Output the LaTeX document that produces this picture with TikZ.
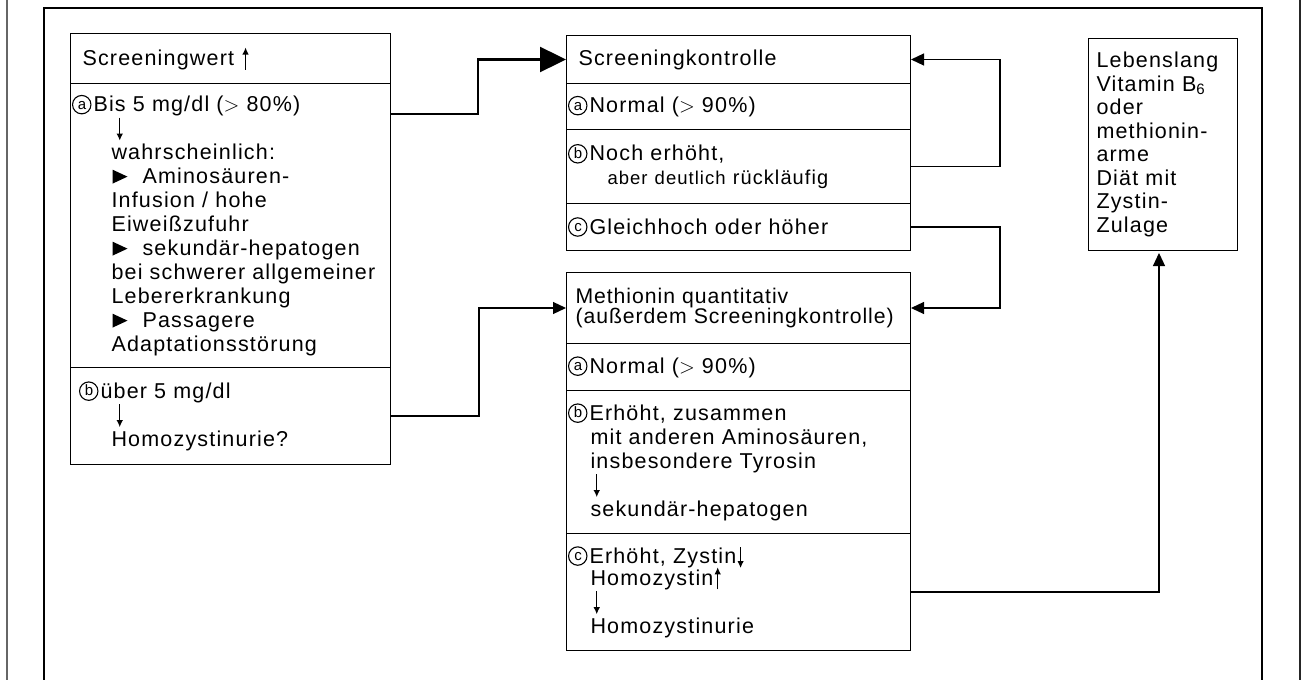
\documentclass[tikz,border=0pt]{standalone}
\usepackage{fontspec}
\setmainfont{Liberation Sans}[LetterSpace=5.5]
\usetikzlibrary{arrows.meta}

% circled item letter: the letter in a fixed box, the ring drawn over it
\newcommand\circled[1]{\makebox[19pt]{\raisebox{2.2pt}{\fontsize{15}{15}\selectfont #1}}%
  \llap{\tikz[baseline=-7pt,x=1pt,y=1pt]\draw[line width=1.1pt] (0,0) circle[radius=9.2pt];}\hspace{2pt}}
% arrow standing on its own line
\newcommand\ardown{\tikz[baseline=0pt,x=1pt,y=1pt]\draw[line width=1.2pt,-{Latex[length=7pt,width=6.5pt]}] (0,18) -- (0,-5);}
% small inline arrows
\newcommand\indown{\hspace{1pt}\tikz[baseline=0pt,x=1pt,y=1pt]\draw[line width=1.2pt,-{Latex[length=7pt,width=6.5pt]}] (0,16) -- (0,-5);}
\newcommand\inup{\hspace{1pt}\tikz[baseline=0pt,x=1pt,y=1pt]\draw[line width=1.2pt,-{Latex[length=7pt,width=6.5pt]}] (0,-4) -- (0,18);}
% list bullet
\newcommand\bul{\tikz[baseline=0pt,x=1pt,y=1pt]\fill (0,0) -- (0,14) -- (15,7) -- cycle;\hspace{15pt}}

\begin{document}
\begin{tikzpicture}[x=1pt,y=-1pt,
  cell/.style={draw,line width=1pt,rectangle,anchor=north west,inner ysep=0pt,
    align=left,font=\fontsize{21.5}{24}\selectfont},
  link/.style={line width=1.2pt,-{Triangle[length=13pt,width=12pt]}},
  biglink/.style={line width=2.4pt,-{Triangle[length=26pt,width=25pt]}},
  frame/.style={line width=1.5pt}]
\useasboundingbox (0,0) rectangle (1307,680);

% page frame
\draw[frame] (44,680) -- (44,8) -- (1262,8) -- (1262,680);
\draw[line width=1.2pt,black!60] (7,0) -- (7,680);
\draw[line width=1.4pt,black!85] (1300,0) -- (1300,680);

% left column
\node[cell,minimum width=320pt,minimum height=50pt,text width=296pt,inner xsep=12pt] (lh) at (70,33)
  {Screeningwert \inup};
\node[cell,minimum width=320pt,minimum height=284pt,text width=316pt,inner xsep=2pt] (la) at (70,83)
  {\circled{a}Bis 5 mg/dl ($>$ 80\%)\\
   \hspace*{44pt}\ardown\\
   \hspace*{39pt}wahrscheinlich:\\
   \hspace*{40pt}\bul Aminosäuren-\\
   \hspace*{39pt}Infusion / hohe\\
   \hspace*{39pt}Eiweißzufuhr\\
   \hspace*{40pt}\bul sekundär-hepatogen\\
   \hspace*{39pt}bei schwerer allgemeiner\\
   \hspace*{39pt}Lebererkrankung\\
   \hspace*{40pt}\bul Passagere\\
   \hspace*{39pt}Adaptationsstörung};
\node[cell,minimum width=320pt,minimum height=97pt,text width=316pt,inner xsep=2pt] (lb) at (70,367)
  {\hspace*{7pt}\circled{b}über 5 mg/dl\\
   \hspace*{44pt}\ardown\\
   \hspace*{39pt}Homozystinurie?};

% screening check
\node[cell,minimum width=344pt,minimum height=48pt,text width=320pt,inner xsep=12pt] (mh) at (566,35)
  {Screeningkontrolle};
\node[cell,minimum width=344pt,minimum height=46pt,text width=340pt,inner xsep=2pt] (ma) at (566,83)
  {\circled{a}Normal ($>$ 90\%)};
\node[cell,minimum width=344pt,minimum height=74pt,text width=340pt,inner xsep=2pt] (mb) at (566,129)
  {\circled{b}Noch erhöht,\\
   \hspace*{39pt}{\fontsize{18.5}{24}\selectfont aber deutlich} {\fontsize{20}{24}\selectfont rückläufig}};
\node[cell,minimum width=344pt,minimum height=47pt,text width=340pt,inner xsep=2pt] (mc) at (566,203)
  {\circled{c}Gleichhoch oder höher};

% methionine
\node[cell,minimum width=344pt,minimum height=71pt,text width=326pt,inner xsep=9pt,
  font=\fontsize{21.2}{20.5}\selectfont\addfontfeatures{LetterSpace=4.5}] (nh) at (566,272)
  {Methionin quantitativ\\(außerdem Screeningkontrolle)};
\node[cell,minimum width=344pt,minimum height=47pt,text width=340pt,inner xsep=2pt] (na) at (566,343)
  {\circled{a}Normal ($>$ 90\%)};
\node[cell,minimum width=344pt,minimum height=143pt,text width=340pt,inner xsep=2pt] (nb) at (566,390)
  {\circled{b}Erhöht, zusammen\\
   \hspace*{22pt}mit anderen Aminosäuren,\\
   \hspace*{22pt}insbesondere Tyrosin\\
   \hspace*{25pt}\ardown\\
   \hspace*{22pt}sekundär-hepatogen};
\node[cell,minimum width=344pt,minimum height=117pt,text width=340pt,inner xsep=2pt] (nc) at (566,533)
  {\circled{c}Erhöht, Zystin\indown\\[-3pt]
   \hspace*{22pt}Homozystin\inup\\
   \hspace*{25pt}\ardown\\
   \hspace*{22pt}Homozystinurie};

% therapy
\node[cell,minimum width=149pt,minimum height=212pt,text width=133pt,inner xsep=8pt,
  font=\fontsize{21.5}{23.5}\selectfont] (lv) at (1088,38)
  {Lebenslang\\Vitamin B\textsubscript{6}\\oder\\methionin-\\arme\\Diät mit\\Zystin-\\Zulage};

% connectors
\draw[biglink] ([yshift=-31pt]la.north east) -- ++(87,0) |- (mh.west);
\draw[link] (lb.east) -- ++(88,0) |- (nh.west);
\draw[link] (mb.east) -- ++(89,0) |- (mh.east);
\draw[link] (mc.east) -- ++(89,0) |- (nh.east);
\draw[link,shorten >=2pt] (nc.east) -| ([xshift=-4pt]lv.south);
\end{tikzpicture}
\end{document}
